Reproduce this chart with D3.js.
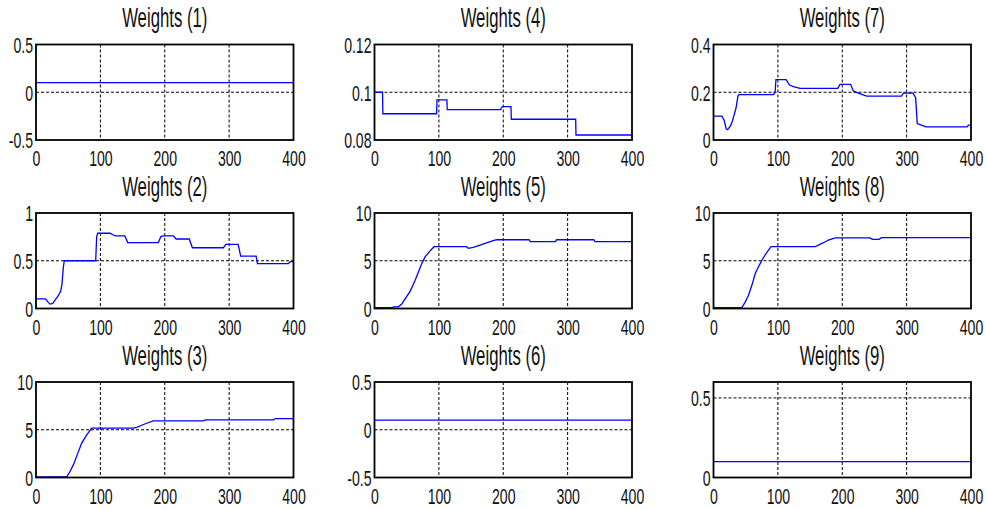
<!DOCTYPE html>
<html>
<head>
<meta charset="utf-8">
<script src="https://cdn.jsdelivr.net/npm/d3@7"></script>
<style>
  html, body { margin: 0; padding: 0; background: #fff; }
  svg { display: block; }
</style>
</head>
<body>
<svg id="chart" width="986" height="509"></svg>
<script>
// ---------------- data ----------------
const xTicks = [0, 100, 200, 300, 400];
const xTickLabels = ["0", "100", "200", "300", "400"];

const titles = ["Weights (1)", "Weights (2)", "Weights (3)",
                "Weights (4)", "Weights (5)", "Weights (6)",
                "Weights (7)", "Weights (8)", "Weights (9)"];

const w1 = [[0, 0.1], [400, 0.1]];
const w2 = [[0,0.1],[15,0.1],[19,0.064],[21.8,0.046],[26,0.053],[29.5,0.088],[34.7,0.134],[38.3,0.18],
            [40.4,0.258],[42.5,0.435],[44,0.5],[92.7,0.5],[94.3,0.753],[95.9,0.788],[115,0.788],[120,0.77],
            [123,0.76],[138,0.76],[142.5,0.69],[190,0.69],[194,0.753],[197,0.76],[213.5,0.76],[217.6,0.728],
            [238,0.728],[243,0.636],[291,0.636],[295,0.671],[314,0.671],[318,0.548],[342,0.548],[344,0.47],
            [392,0.47],[395,0.49],[400,0.49]];
const w3 = [[0,0.07],[47.7,0.07],[52.8,0.63],[58,1.32],[64,2.37],[71,3.6],[78.8,4.46],[86.5,5.16],
            [151,5.16],[156.5,5.26],[164,5.47],[172,5.68],[182,5.92],[260,5.92],[262.7,6.03],[369,6.03],
            [371.5,6.17],[400,6.17]];
const w4 = [[0,0.1],[12.5,0.1],[13,0.091],[96.5,0.091],[97,0.0968],[112.5,0.0968],[113,0.0927],[196,0.0927],
            [197,0.0935],[199,0.094],[212,0.094],[212.5,0.0887],[312.5,0.0887],[313,0.0821],[400,0.0821]];
const w5 = [[0,0.1],[28,0.1],[29.5,0.18],[37,0.18],[42.4,0.46],[47.5,1.0],[55.3,1.8],[63,2.93],[68.2,3.82],
            [73.4,4.7],[78.6,5.4],[86.3,6.04],[92.5,6.47],[143,6.47],[145.7,6.3],[153.5,6.4],[164,6.64],
            [174,6.86],[184.5,7.1],[190,7.2],[240,7.2],[242,7.0],[281,7.0],[283,7.2],[340.6,7.2],[342.6,7.0],
            [400,7.0]];
const w6 = [[0, 0.1], [400, 0.1]];
const w7 = [[0,0.1],[13,0.1],[16.5,0.083],[19.7,0.047],[22,0.043],[26,0.058],[28.5,0.072],[32,0.105],
            [35,0.134],[38,0.184],[39.5,0.19],[93,0.19],[95.7,0.2],[97,0.253],[112.8,0.253],[118,0.23],
            [124,0.224],[134.5,0.216],[193,0.216],[196.6,0.233],[213,0.233],[217,0.206],[225,0.196],
            [238,0.184],[292,0.184],[295,0.196],[310,0.196],[314,0.177],[316.5,0.069],[323,0.062],
            [330,0.055],[394,0.055],[396,0.062],[400,0.062]];
const w8 = [[0,0.1],[44,0.1],[49,0.64],[54,1.34],[59.5,2.4],[64.7,3.64],[71,4.52],[77.6,5.34],[85.4,6.11],
            [89.5,6.47],[157.8,6.47],[163,6.64],[170.8,6.89],[178.5,7.17],[189,7.4],[243,7.4],[247,7.24],
            [257,7.24],[261,7.42],[400,7.42]];
const w9 = [[0, 0.1], [400, 0.1]];

const yDomains = [[-0.5,0.5],[0,1],[0,10],[0.08,0.12],[0,10],[-0.5,0.5],[0,0.4],[0,10],[0,0.6]];
const yTicks = [[-0.5,0,0.5],[0,0.5,1],[0,5,10],[0.08,0.1,0.12],[0,5,10],[-0.5,0,0.5],[0,0.2,0.4],[0,5,10],[0,0.5]];
const yTickLabels = [["-0.5","0","0.5"],["0","0.5","1"],["0","5","10"],["0.08","0.1","0.12"],["0","5","10"],
                     ["-0.5","0","0.5"],["0","0.2","0.4"],["0","5","10"],["0","0.5"]];
const series = [w1, w2, w3, w4, w5, w6, w7, w8, w9];

// ---------------- layout ----------------
const colLeft = [36, 374.5, 713.5];
const rowTop = [44.5, 213, 382];
const panelW = 257.5, panelH = 95.5;
const textScale = 0.64, titleScale = 0.62;
const fontFamily = "'Liberation Sans', Arial, Helvetica, sans-serif";

const svg = d3.select("#chart");
svg.append("rect").attr("width", 986).attr("height", 509).attr("fill", "#fff");

series.forEach((data, i) => {
  const col = Math.floor(i / 3), row = i % 3;
  const g = svg.append("g").attr("transform", `translate(${colLeft[col]},${rowTop[row]})`);

  const x = d3.scaleLinear().domain([0, 400]).range([0, panelW]);
  const y = d3.scaleLinear().domain(yDomains[i]).range([panelH, 0]);

  // grid
  const dom = yDomains[i];
  g.append("g").selectAll("line.gx")
    .data(xTicks.filter(t => t > 0 && t < 400))
    .join("line")
    .attr("x1", d => x(d)).attr("x2", d => x(d))
    .attr("y1", 0).attr("y2", panelH)
    .attr("stroke", "#000").attr("stroke-width", 1).attr("stroke-dasharray", "3,2");
  g.append("g").selectAll("line.gy")
    .data(yTicks[i].filter(t => t > dom[0] && t < dom[1]))
    .join("line")
    .attr("x1", 0).attr("x2", panelW)
    .attr("y1", d => y(d)).attr("y2", d => y(d))
    .attr("stroke", "#000").attr("stroke-width", 1).attr("stroke-dasharray", "3,2");

  // line
  g.append("path")
    .datum(data)
    .attr("fill", "none")
    .attr("stroke", "#0000ff")
    .attr("stroke-width", 1.3)
    .attr("d", d3.line().x(d => x(d[0])).y(d => y(d[1])));

  // frame
  g.append("rect")
    .attr("x", 0).attr("y", 0).attr("width", panelW).attr("height", panelH)
    .attr("fill", "none").attr("stroke", "#000").attr("stroke-width", 1.8);

  // x axis
  const xa = g.append("g").attr("transform", `translate(0,${panelH})`)
    .call(d3.axisBottom(x).tickValues(xTicks).tickSize(0)
      .tickFormat((d, k) => xTickLabels[k]));
  xa.select(".domain").remove();
  xa.selectAll("text")
    .attr("y", 26.5).attr("dy", null)
    .attr("fill", "#111")
    .attr("font-size", 22).attr("font-family", fontFamily)
    .attr("transform", `scale(${textScale},1)`);

  // y axis
  const labels = yTickLabels[i];
  const ya = g.append("g")
    .call(d3.axisLeft(y).tickValues(yTicks[i]).tickSize(0)
      .tickFormat((d, k) => labels[k]));
  ya.select(".domain").remove();
  ya.selectAll("text")
    .attr("x", -3 / textScale).attr("dy", "0.36em")
    .attr("fill", "#111")
    .attr("font-size", 22).attr("font-family", fontFamily)
    .attr("transform", `scale(${textScale},1)`);

  // title
  g.append("g")
    .attr("transform", `translate(${panelW / 2},-17.5) scale(${titleScale},1)`)
    .append("text")
    .attr("text-anchor", "middle")
    .attr("fill", "#111")
    .attr("font-size", 27).attr("font-family", fontFamily)
    .text(titles[i]);
});
</script>
</body>
</html>
